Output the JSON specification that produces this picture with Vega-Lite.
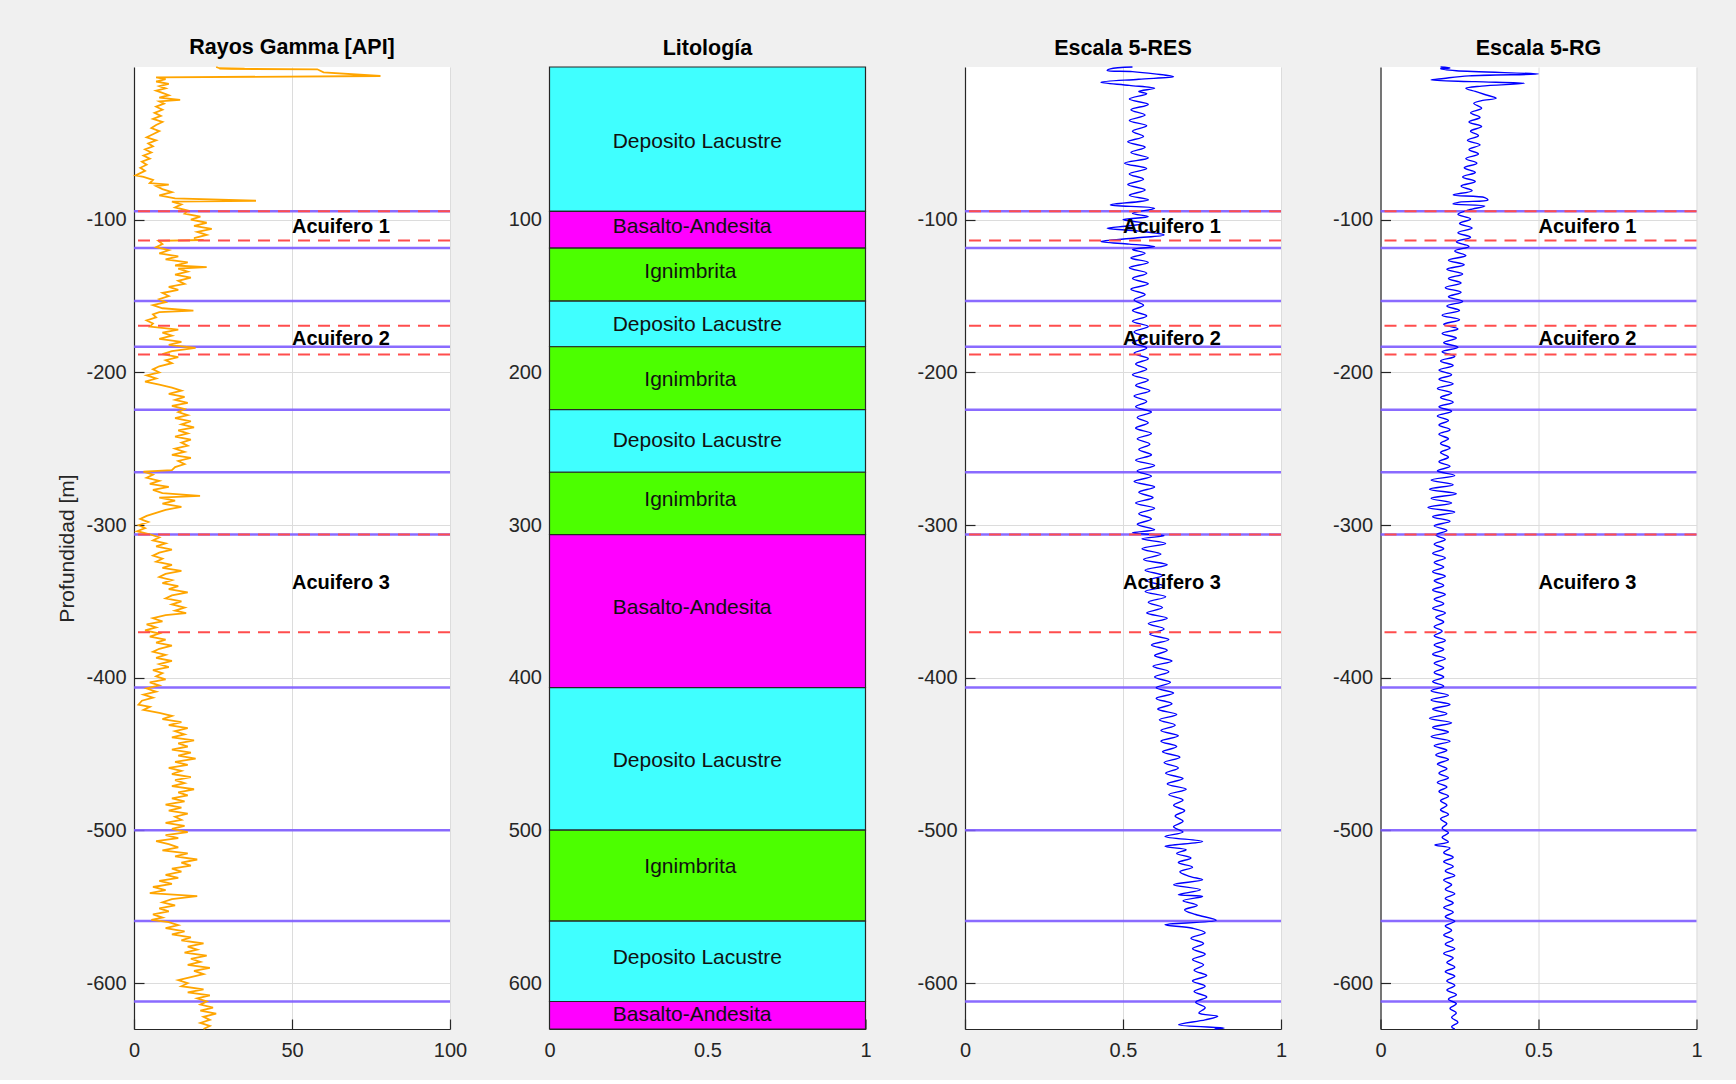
{
"$schema": "https://vega.github.io/schema/vega-lite/v6.json",
"background": "#f0f0f0",
"padding": {"left": 56, "top": 37, "right": 33, "bottom": 20},
"bounds": "flush",
"spacing": 99.5,
"config": {
  "font": "Liberation Sans",
  "view": {"stroke": null, "fill": "white"},
  "axis": {"domainColor": "#262626", "domainWidth": 1.2, "tickColor": "#262626", "tickSize": -10, "tickWidth": 1.2, "labelColor": "#262626", "labelFontSize": 20, "labelFlush": false, "gridColor": "#dcdcdc", "gridWidth": 1, "titleColor": "#262626", "titleFontSize": 21, "titleFontWeight": "normal", "titlePadding": 8},
  "axisLeft": {"labelPadding": 18},
  "axisBottom": {"labelPadding": 21},
  "title": {"fontSize": 21.5, "fontWeight": "bold", "color": "#000000", "offset": 4.5}
},
"datasets": {
  "limites": [{"p": -94.5}, {"p": -118.6}, {"p": -153.3}, {"p": -183.2}, {"p": -224.4}, {"p": -265.4}, {"p": -306.2}, {"p": -406.4}, {"p": -499.8}, {"p": -559.3}, {"p": -612}],
  "acuiferos": [{"p": -94.5}, {"p": -113.6}, {"p": -169.4}, {"p": -188.2}, {"p": -306.2}, {"p": -370.2}],
  "etiquetas": [{"p": -105, "txt": "Acuifero 1"}, {"p": -178.3, "txt": "Acuifero 2"}, {"p": -338, "txt": "Acuifero 3"}],
  "lito": [
    {"lito": "Deposito Lacustre", "p": 0, "p2": 94.5, "pm": 48.9, "xt": 0.2},
    {"lito": "Basalto-Andesita", "p": 94.5, "p2": 118.6, "pm": 104.7, "xt": 0.2},
    {"lito": "Ignimbrita", "p": 118.6, "p2": 153.3, "pm": 134.5, "xt": 0.3},
    {"lito": "Deposito Lacustre", "p": 153.3, "p2": 183.2, "pm": 169.2, "xt": 0.2},
    {"lito": "Ignimbrita", "p": 183.2, "p2": 224.4, "pm": 204.7, "xt": 0.3},
    {"lito": "Deposito Lacustre", "p": 224.4, "p2": 265.4, "pm": 244.6, "xt": 0.2},
    {"lito": "Ignimbrita", "p": 265.4, "p2": 306.2, "pm": 283.7, "xt": 0.3},
    {"lito": "Basalto-Andesita", "p": 306.2, "p2": 406.4, "pm": 354.0, "xt": 0.2},
    {"lito": "Deposito Lacustre", "p": 406.4, "p2": 499.8, "pm": 454.8, "xt": 0.2},
    {"lito": "Ignimbrita", "p": 499.8, "p2": 559.3, "pm": 523.6, "xt": 0.3},
    {"lito": "Deposito Lacustre", "p": 559.3, "p2": 612, "pm": 583.8, "xt": 0.2},
    {"lito": "Basalto-Andesita", "p": 612, "p2": 630, "pm": 620.8, "xt": 0.2}
  ],
  "gr": [
{"p":0,"v":26},{"p":-0.8,"v":27},{"p":-1,"v":35},{"p":-1.2,"v":27},{"p":-1.5,"v":58},{"p":-3.5,"v":60},{"p":-5.9,"v":78},{"p":-6.8,"v":7},{"p":-8,"v":10},{"p":-9.5,"v":7},{"p":-11,"v":11},{"p":-12.5,"v":8},{"p":-14,"v":10},{"p":-15.5,"v":7},{"p":-17,"v":9},{"p":-18.5,"v":11},{"p":-20,"v":8},{"p":-21.5,"v":14.6},{"p":-22.5,"v":8},{"p":-24,"v":9.5},{"p":-26,"v":7},{"p":-28,"v":9},{"p":-30,"v":6.5},{"p":-32,"v":8.5},{"p":-34,"v":6},{"p":-36,"v":9},{"p":-38,"v":7},{"p":-40,"v":5.5},{"p":-42,"v":8},{"p":-44,"v":6},{"p":-46,"v":4},{"p":-48,"v":7},{"p":-50,"v":4.5},{"p":-52,"v":6},{"p":-54,"v":3.5},{"p":-56,"v":5.5},{"p":-58,"v":3},{"p":-60,"v":5},{"p":-62,"v":2.5},{"p":-64,"v":4},{"p":-66,"v":2},{"p":-68,"v":3.5},{"p":-70,"v":1.5},{"p":-71,"v":0.5},{"p":-72,"v":3},{"p":-74,"v":6},{"p":-76,"v":5},{"p":-77,"v":11},{"p":-78,"v":7},{"p":-80,"v":9},{"p":-82,"v":12},{"p":-84,"v":8},{"p":-86,"v":13},{"p":-87.6,"v":38.6},{"p":-88.2,"v":12},{"p":-90,"v":15},{"p":-92,"v":13},{"p":-94,"v":17},{"p":-96,"v":16},{"p":-98,"v":21},{"p":-100,"v":18},{"p":-102,"v":23},{"p":-104,"v":19},{"p":-106,"v":24.6},{"p":-108,"v":20},{"p":-110,"v":23},{"p":-112,"v":19},{"p":-113.3,"v":22},{"p":-113.8,"v":7.7},{"p":-116,"v":9},{"p":-118,"v":7},{"p":-120,"v":11},{"p":-122,"v":8},{"p":-124,"v":14},{"p":-126,"v":10},{"p":-128,"v":17},{"p":-130,"v":13},{"p":-131,"v":23},{"p":-132,"v":14},{"p":-134,"v":17},{"p":-136,"v":13},{"p":-138,"v":18},{"p":-140,"v":14},{"p":-142,"v":16},{"p":-144,"v":11},{"p":-146,"v":14},{"p":-148,"v":9},{"p":-150,"v":11},{"p":-152,"v":8},{"p":-154,"v":10},{"p":-156,"v":6},{"p":-158,"v":9},{"p":-159.5,"v":18.8},{"p":-160.5,"v":8},{"p":-162,"v":6},{"p":-164,"v":7},{"p":-166,"v":4},{"p":-168,"v":6},{"p":-170,"v":5},{"p":-172,"v":14},{"p":-174,"v":9},{"p":-176,"v":12},{"p":-178,"v":8},{"p":-180,"v":15},{"p":-182,"v":11},{"p":-184,"v":19.5},{"p":-186,"v":12},{"p":-188,"v":9},{"p":-190,"v":14},{"p":-192,"v":10},{"p":-194,"v":12},{"p":-196,"v":8},{"p":-198,"v":6},{"p":-200,"v":8},{"p":-202,"v":4},{"p":-204,"v":7},{"p":-206,"v":3.5},{"p":-208,"v":8},{"p":-210,"v":12},{"p":-212,"v":15},{"p":-214,"v":11},{"p":-216,"v":16},{"p":-218,"v":13},{"p":-220,"v":17},{"p":-222,"v":12},{"p":-224,"v":16},{"p":-226,"v":14},{"p":-228,"v":17},{"p":-230,"v":13},{"p":-232,"v":18},{"p":-234,"v":15},{"p":-236,"v":19},{"p":-238,"v":14},{"p":-240,"v":17},{"p":-242,"v":13},{"p":-244,"v":18},{"p":-246,"v":15},{"p":-248,"v":17},{"p":-250,"v":13},{"p":-252,"v":16},{"p":-254,"v":12},{"p":-256,"v":18},{"p":-258,"v":14},{"p":-260,"v":16},{"p":-262,"v":13},{"p":-264,"v":12},{"p":-265,"v":3},{"p":-267,"v":6},{"p":-269,"v":4},{"p":-271,"v":8},{"p":-273,"v":5},{"p":-275,"v":11},{"p":-277,"v":6},{"p":-279,"v":9},{"p":-280.8,"v":20.9},{"p":-282,"v":8},{"p":-284,"v":13},{"p":-286,"v":9},{"p":-288,"v":15},{"p":-290,"v":10},{"p":-292,"v":7},{"p":-294,"v":4},{"p":-296,"v":2},{"p":-298,"v":4.5},{"p":-300,"v":1.5},{"p":-302,"v":3.5},{"p":-304,"v":1},{"p":-306,"v":5},{"p":-308,"v":8},{"p":-310,"v":6},{"p":-312,"v":10},{"p":-314,"v":7},{"p":-316,"v":12},{"p":-318,"v":8},{"p":-320,"v":6},{"p":-322,"v":9},{"p":-324,"v":7},{"p":-326,"v":12},{"p":-328,"v":9},{"p":-330,"v":15},{"p":-332,"v":10},{"p":-334,"v":8},{"p":-336,"v":12},{"p":-338,"v":9},{"p":-340,"v":14},{"p":-342,"v":11},{"p":-344,"v":17},{"p":-346,"v":12},{"p":-348,"v":10},{"p":-350,"v":15},{"p":-352,"v":12},{"p":-354,"v":16},{"p":-356,"v":13},{"p":-357.6,"v":16.5},{"p":-359,"v":10},{"p":-361,"v":6},{"p":-363,"v":9},{"p":-365,"v":4},{"p":-367,"v":7},{"p":-369,"v":3.5},{"p":-371,"v":8},{"p":-373,"v":5},{"p":-375,"v":10},{"p":-377,"v":7},{"p":-379,"v":12},{"p":-381,"v":8},{"p":-383,"v":6},{"p":-385,"v":10},{"p":-387,"v":7},{"p":-389,"v":12},{"p":-391,"v":8},{"p":-393,"v":11},{"p":-395,"v":6},{"p":-397,"v":9},{"p":-399,"v":7},{"p":-401,"v":10},{"p":-403,"v":5},{"p":-405,"v":8},{"p":-407,"v":4},{"p":-409,"v":7},{"p":-411,"v":3},{"p":-413,"v":6},{"p":-415,"v":2.5},{"p":-417.6,"v":1.4},{"p":-419,"v":5},{"p":-421,"v":3},{"p":-423,"v":8},{"p":-425,"v":12},{"p":-427,"v":9},{"p":-429,"v":15},{"p":-431,"v":11},{"p":-433,"v":17},{"p":-435,"v":13},{"p":-437,"v":16},{"p":-439,"v":12},{"p":-441,"v":19},{"p":-443,"v":14},{"p":-445,"v":17},{"p":-447,"v":12},{"p":-449,"v":18},{"p":-451,"v":14},{"p":-453,"v":19.5},{"p":-455,"v":13},{"p":-457,"v":17},{"p":-459,"v":11},{"p":-461,"v":15},{"p":-463,"v":12},{"p":-465,"v":18},{"p":-467,"v":13},{"p":-469,"v":16},{"p":-471,"v":12},{"p":-473,"v":19},{"p":-475,"v":14},{"p":-477,"v":17},{"p":-479,"v":12},{"p":-481,"v":16},{"p":-483,"v":10},{"p":-485,"v":15},{"p":-487,"v":11},{"p":-489,"v":17},{"p":-491,"v":13},{"p":-493,"v":15},{"p":-495,"v":10},{"p":-497,"v":16},{"p":-499,"v":12},{"p":-501,"v":17},{"p":-503,"v":10},{"p":-505,"v":14},{"p":-507,"v":7},{"p":-509,"v":11},{"p":-511,"v":14},{"p":-513,"v":9},{"p":-515,"v":17},{"p":-517,"v":13},{"p":-519,"v":20},{"p":-521,"v":15},{"p":-523,"v":18},{"p":-525,"v":12},{"p":-527,"v":15},{"p":-529,"v":10},{"p":-531,"v":14},{"p":-533,"v":8},{"p":-535,"v":12},{"p":-537,"v":6},{"p":-539,"v":10},{"p":-541,"v":5},{"p":-543,"v":20},{"p":-545,"v":12},{"p":-547,"v":9},{"p":-549,"v":13},{"p":-551,"v":8},{"p":-553,"v":11},{"p":-555,"v":6},{"p":-557,"v":9},{"p":-558.5,"v":5.5},{"p":-560,"v":11},{"p":-562,"v":14},{"p":-564,"v":10},{"p":-566,"v":16},{"p":-568,"v":12},{"p":-570,"v":18},{"p":-572,"v":15},{"p":-574,"v":22},{"p":-576,"v":17},{"p":-578,"v":20},{"p":-580,"v":16},{"p":-582,"v":23},{"p":-584,"v":18},{"p":-586,"v":21},{"p":-588,"v":17},{"p":-590,"v":24},{"p":-592,"v":19},{"p":-594,"v":22},{"p":-596,"v":18},{"p":-598,"v":14},{"p":-600,"v":17},{"p":-602,"v":15},{"p":-604,"v":22},{"p":-606,"v":17},{"p":-608,"v":24},{"p":-610,"v":20},{"p":-612,"v":23},{"p":-614,"v":21},{"p":-616,"v":25},{"p":-618,"v":21},{"p":-620,"v":26},{"p":-622,"v":22},{"p":-624,"v":24},{"p":-626,"v":21},{"p":-628,"v":24},{"p":-630,"v":22}
  ],
  "res": [
{"p":0,"v":0.53},{"p":-1.2,"v":0.46},{"p":-2.3,"v":0.45},{"p":-3,"v":0.53},{"p":-4.5,"v":0.6},{"p":-6.3,"v":0.66},{"p":-8,"v":0.55},{"p":-10,"v":0.43},{"p":-12,"v":0.52},{"p":-14,"v":0.6},{"p":-16,"v":0.55},{"p":-17.5,"v":0.575},{"p":-21,"v":0.52},{"p":-24.5,"v":0.58},{"p":-28,"v":0.525},{"p":-31.5,"v":0.57},{"p":-35,"v":0.52},{"p":-38.5,"v":0.575},{"p":-42,"v":0.53},{"p":-45.5,"v":0.565},{"p":-49,"v":0.515},{"p":-52.5,"v":0.57},{"p":-56,"v":0.525},{"p":-59.5,"v":0.58},{"p":-63,"v":0.505},{"p":-66.5,"v":0.575},{"p":-70,"v":0.52},{"p":-73.5,"v":0.565},{"p":-77,"v":0.515},{"p":-80.5,"v":0.57},{"p":-84,"v":0.52},{"p":-87,"v":0.58},{"p":-90.3,"v":0.46},{"p":-92.5,"v":0.6},{"p":-95.8,"v":0.53},{"p":-98,"v":0.58},{"p":-100,"v":0.5},{"p":-102.3,"v":0.57},{"p":-104,"v":0.52},{"p":-105.6,"v":0.45},{"p":-107.5,"v":0.55},{"p":-110,"v":0.63},{"p":-112,"v":0.54},{"p":-114.3,"v":0.43},{"p":-116,"v":0.52},{"p":-117.6,"v":0.6},{"p":-119.5,"v":0.53},{"p":-122,"v":0.57},{"p":-125,"v":0.525},{"p":-128,"v":0.58},{"p":-131.5,"v":0.52},{"p":-135,"v":0.575},{"p":-138.5,"v":0.53},{"p":-142,"v":0.58},{"p":-145.5,"v":0.525},{"p":-149,"v":0.57},{"p":-152.5,"v":0.535},{"p":-156,"v":0.565},{"p":-159.5,"v":0.53},{"p":-163,"v":0.575},{"p":-166.5,"v":0.53},{"p":-170,"v":0.58},{"p":-173.5,"v":0.535},{"p":-177,"v":0.57},{"p":-180.5,"v":0.53},{"p":-184,"v":0.575},{"p":-187.5,"v":0.535},{"p":-191,"v":0.58},{"p":-194.5,"v":0.54},{"p":-198,"v":0.575},{"p":-201.5,"v":0.53},{"p":-205,"v":0.58},{"p":-208.5,"v":0.54},{"p":-212,"v":0.585},{"p":-215.5,"v":0.535},{"p":-219,"v":0.575},{"p":-222.5,"v":0.54},{"p":-226,"v":0.59},{"p":-229.5,"v":0.545},{"p":-233,"v":0.58},{"p":-236.5,"v":0.54},{"p":-240,"v":0.59},{"p":-243.5,"v":0.545},{"p":-247,"v":0.585},{"p":-250.5,"v":0.55},{"p":-254,"v":0.59},{"p":-257.5,"v":0.54},{"p":-261,"v":0.6},{"p":-264.5,"v":0.545},{"p":-268,"v":0.59},{"p":-271.5,"v":0.535},{"p":-275,"v":0.6},{"p":-278.5,"v":0.55},{"p":-282,"v":0.595},{"p":-285.5,"v":0.54},{"p":-289,"v":0.6},{"p":-292.5,"v":0.55},{"p":-296,"v":0.59},{"p":-299.5,"v":0.545},{"p":-303,"v":0.6},{"p":-305,"v":0.53},{"p":-307,"v":0.63},{"p":-309,"v":0.56},{"p":-312,"v":0.635},{"p":-315.5,"v":0.56},{"p":-319,"v":0.62},{"p":-322.5,"v":0.565},{"p":-326,"v":0.64},{"p":-329.5,"v":0.57},{"p":-333,"v":0.625},{"p":-336.5,"v":0.575},{"p":-340,"v":0.63},{"p":-343.5,"v":0.57},{"p":-347,"v":0.635},{"p":-350.5,"v":0.58},{"p":-354,"v":0.625},{"p":-357.5,"v":0.575},{"p":-361,"v":0.64},{"p":-364.5,"v":0.58},{"p":-368,"v":0.63},{"p":-371.5,"v":0.585},{"p":-375,"v":0.645},{"p":-378.5,"v":0.59},{"p":-382,"v":0.64},{"p":-385.5,"v":0.6},{"p":-389,"v":0.655},{"p":-392.5,"v":0.595},{"p":-396,"v":0.645},{"p":-399.5,"v":0.6},{"p":-403,"v":0.65},{"p":-406.5,"v":0.605},{"p":-410,"v":0.66},{"p":-413.5,"v":0.605},{"p":-417,"v":0.655},{"p":-420.5,"v":0.61},{"p":-424,"v":0.67},{"p":-427.5,"v":0.615},{"p":-431,"v":0.665},{"p":-434.5,"v":0.62},{"p":-438,"v":0.675},{"p":-441.5,"v":0.62},{"p":-445,"v":0.67},{"p":-448.5,"v":0.625},{"p":-452,"v":0.68},{"p":-455.5,"v":0.63},{"p":-459,"v":0.675},{"p":-462.5,"v":0.635},{"p":-466,"v":0.69},{"p":-469.5,"v":0.64},{"p":-473,"v":0.7},{"p":-476.5,"v":0.645},{"p":-480,"v":0.69},{"p":-483.5,"v":0.66},{"p":-487,"v":0.695},{"p":-490.5,"v":0.665},{"p":-494,"v":0.69},{"p":-497.5,"v":0.66},{"p":-501,"v":0.69},{"p":-503.9,"v":0.633},{"p":-507.2,"v":0.752},{"p":-510.4,"v":0.633},{"p":-512.6,"v":0.7},{"p":-515,"v":0.67},{"p":-518,"v":0.715},{"p":-521,"v":0.675},{"p":-524,"v":0.72},{"p":-527,"v":0.68},{"p":-530,"v":0.71},{"p":-532.3,"v":0.752},{"p":-535.5,"v":0.66},{"p":-538.8,"v":0.745},{"p":-542,"v":0.675},{"p":-543.2,"v":0.752},{"p":-546,"v":0.69},{"p":-549,"v":0.735},{"p":-552,"v":0.695},{"p":-555,"v":0.73},{"p":-558.8,"v":0.795},{"p":-561.7,"v":0.633},{"p":-564,"v":0.72},{"p":-567,"v":0.76},{"p":-570.5,"v":0.715},{"p":-574,"v":0.755},{"p":-577.5,"v":0.72},{"p":-581,"v":0.76},{"p":-584.5,"v":0.72},{"p":-588,"v":0.755},{"p":-591.5,"v":0.725},{"p":-595,"v":0.765},{"p":-598.5,"v":0.72},{"p":-602,"v":0.76},{"p":-605.5,"v":0.725},{"p":-609,"v":0.765},{"p":-612.5,"v":0.73},{"p":-616,"v":0.76},{"p":-619.5,"v":0.74},{"p":-621.7,"v":0.8},{"p":-624,"v":0.76},{"p":-627.2,"v":0.676},{"p":-629.4,"v":0.82},{"p":-630,"v":0.79}
  ],
  "rg": [
{"p":0,"v":0.19},{"p":-0.6,"v":0.22},{"p":-1.2,"v":0.19},{"p":-2.5,"v":0.24},{"p":-4.6,"v":0.5},{"p":-5.8,"v":0.28},{"p":-7.5,"v":0.2},{"p":-8.5,"v":0.16},{"p":-9.6,"v":0.3},{"p":-10.7,"v":0.455},{"p":-12.5,"v":0.32},{"p":-14,"v":0.27},{"p":-16,"v":0.3},{"p":-18,"v":0.33},{"p":-20.5,"v":0.366},{"p":-22,"v":0.32},{"p":-23.8,"v":0.295},{"p":-27,"v":0.32},{"p":-30,"v":0.285},{"p":-33,"v":0.315},{"p":-36,"v":0.28},{"p":-39,"v":0.32},{"p":-42,"v":0.285},{"p":-45,"v":0.31},{"p":-48,"v":0.275},{"p":-51,"v":0.315},{"p":-54,"v":0.28},{"p":-57,"v":0.31},{"p":-60,"v":0.27},{"p":-63,"v":0.305},{"p":-66,"v":0.265},{"p":-69,"v":0.3},{"p":-72,"v":0.26},{"p":-75,"v":0.3},{"p":-78,"v":0.255},{"p":-81,"v":0.29},{"p":-83.8,"v":0.23},{"p":-85.5,"v":0.33},{"p":-87.1,"v":0.34},{"p":-88.5,"v":0.25},{"p":-89.7,"v":0.229},{"p":-91,"v":0.33},{"p":-93.6,"v":0.28},{"p":-96.5,"v":0.245},{"p":-99.5,"v":0.285},{"p":-102.5,"v":0.25},{"p":-105.5,"v":0.29},{"p":-108.5,"v":0.245},{"p":-111.5,"v":0.285},{"p":-114.5,"v":0.24},{"p":-117.5,"v":0.28},{"p":-120.5,"v":0.235},{"p":-123.5,"v":0.27},{"p":-126.5,"v":0.215},{"p":-129.5,"v":0.265},{"p":-132.5,"v":0.21},{"p":-135.5,"v":0.26},{"p":-138.5,"v":0.215},{"p":-141.5,"v":0.255},{"p":-144.5,"v":0.205},{"p":-147.5,"v":0.255},{"p":-150.5,"v":0.215},{"p":-153.5,"v":0.26},{"p":-156.5,"v":0.21},{"p":-159.5,"v":0.25},{"p":-162.5,"v":0.195},{"p":-165.5,"v":0.25},{"p":-168.5,"v":0.2},{"p":-171.5,"v":0.245},{"p":-174.5,"v":0.195},{"p":-177.5,"v":0.24},{"p":-180.5,"v":0.2},{"p":-183.5,"v":0.245},{"p":-186.5,"v":0.195},{"p":-189.5,"v":0.235},{"p":-192.5,"v":0.19},{"p":-195.5,"v":0.23},{"p":-198.5,"v":0.185},{"p":-201.5,"v":0.225},{"p":-204.5,"v":0.185},{"p":-207.5,"v":0.23},{"p":-210.5,"v":0.18},{"p":-213.5,"v":0.225},{"p":-216.5,"v":0.19},{"p":-219.5,"v":0.23},{"p":-222.5,"v":0.185},{"p":-225.5,"v":0.225},{"p":-228.5,"v":0.18},{"p":-231.5,"v":0.215},{"p":-234.5,"v":0.185},{"p":-237.5,"v":0.22},{"p":-240.5,"v":0.185},{"p":-243.5,"v":0.215},{"p":-246.5,"v":0.19},{"p":-249.5,"v":0.22},{"p":-252.5,"v":0.19},{"p":-255.5,"v":0.215},{"p":-258.5,"v":0.185},{"p":-261.5,"v":0.22},{"p":-264.5,"v":0.18},{"p":-267.5,"v":0.235},{"p":-270.5,"v":0.16},{"p":-273.5,"v":0.23},{"p":-276.5,"v":0.155},{"p":-279.5,"v":0.24},{"p":-282.5,"v":0.16},{"p":-285.5,"v":0.225},{"p":-288.5,"v":0.15},{"p":-291.5,"v":0.235},{"p":-294.5,"v":0.165},{"p":-297.5,"v":0.22},{"p":-300.5,"v":0.17},{"p":-303.5,"v":0.21},{"p":-306.5,"v":0.175},{"p":-309.5,"v":0.205},{"p":-312.5,"v":0.17},{"p":-315.5,"v":0.2},{"p":-318.5,"v":0.165},{"p":-321.5,"v":0.205},{"p":-324.5,"v":0.17},{"p":-327.5,"v":0.2},{"p":-330.5,"v":0.165},{"p":-333.5,"v":0.205},{"p":-336.5,"v":0.17},{"p":-339.5,"v":0.2},{"p":-342.5,"v":0.165},{"p":-345.5,"v":0.205},{"p":-348.5,"v":0.17},{"p":-351.5,"v":0.2},{"p":-354.5,"v":0.165},{"p":-357.5,"v":0.205},{"p":-360.5,"v":0.175},{"p":-363.5,"v":0.2},{"p":-366.5,"v":0.17},{"p":-369.5,"v":0.195},{"p":-372.5,"v":0.17},{"p":-375.5,"v":0.205},{"p":-378.5,"v":0.17},{"p":-381.5,"v":0.2},{"p":-384.5,"v":0.165},{"p":-387.5,"v":0.205},{"p":-390.5,"v":0.17},{"p":-393.5,"v":0.2},{"p":-396.5,"v":0.17},{"p":-399.5,"v":0.2},{"p":-402.5,"v":0.165},{"p":-405.5,"v":0.2},{"p":-408.5,"v":0.16},{"p":-411.5,"v":0.215},{"p":-414.5,"v":0.16},{"p":-417.5,"v":0.22},{"p":-420.5,"v":0.165},{"p":-423.5,"v":0.21},{"p":-426.5,"v":0.155},{"p":-429.5,"v":0.225},{"p":-432.5,"v":0.165},{"p":-435.5,"v":0.215},{"p":-438.5,"v":0.16},{"p":-441.5,"v":0.22},{"p":-444.5,"v":0.17},{"p":-447.5,"v":0.21},{"p":-450.5,"v":0.175},{"p":-453.5,"v":0.215},{"p":-456.5,"v":0.18},{"p":-459.5,"v":0.21},{"p":-462.5,"v":0.185},{"p":-465.5,"v":0.215},{"p":-468.5,"v":0.18},{"p":-471.5,"v":0.21},{"p":-474.5,"v":0.185},{"p":-477.5,"v":0.215},{"p":-480.5,"v":0.19},{"p":-483.5,"v":0.21},{"p":-486.5,"v":0.19},{"p":-489.5,"v":0.215},{"p":-492.5,"v":0.19},{"p":-495.5,"v":0.21},{"p":-498.5,"v":0.195},{"p":-501.5,"v":0.215},{"p":-504.5,"v":0.195},{"p":-507.5,"v":0.215},{"p":-509.5,"v":0.172},{"p":-511.5,"v":0.22},{"p":-514.5,"v":0.2},{"p":-517.5,"v":0.23},{"p":-520.5,"v":0.2},{"p":-523.5,"v":0.23},{"p":-526.5,"v":0.205},{"p":-529.5,"v":0.235},{"p":-532.5,"v":0.2},{"p":-535.5,"v":0.225},{"p":-538.5,"v":0.205},{"p":-541.5,"v":0.235},{"p":-544.5,"v":0.205},{"p":-547.5,"v":0.23},{"p":-550.5,"v":0.2},{"p":-553.5,"v":0.23},{"p":-556.5,"v":0.205},{"p":-559.5,"v":0.235},{"p":-562.5,"v":0.205},{"p":-565.5,"v":0.225},{"p":-568.5,"v":0.2},{"p":-571.5,"v":0.23},{"p":-574.5,"v":0.205},{"p":-577.5,"v":0.235},{"p":-580.5,"v":0.2},{"p":-583.5,"v":0.23},{"p":-586.5,"v":0.21},{"p":-589.5,"v":0.235},{"p":-592.5,"v":0.205},{"p":-595.5,"v":0.235},{"p":-598.5,"v":0.21},{"p":-601.5,"v":0.235},{"p":-604.5,"v":0.21},{"p":-607.5,"v":0.24},{"p":-610.5,"v":0.215},{"p":-613.5,"v":0.24},{"p":-616.5,"v":0.22},{"p":-619.5,"v":0.24},{"p":-622.5,"v":0.225},{"p":-625.5,"v":0.245},{"p":-628.5,"v":0.225},{"p":-630,"v":0.235}
  ]
},
"hconcat": [
  {
    "width": 316, "height": 962,
    "title": {"text": "Rayos Gamma [API]"},
    "encoding": {"y": {"field": "p", "type": "quantitative", "title": "Profundidad [m]", "scale": {"domain": [-630, 0], "nice": false, "zero": false}, "axis": {"values": [-600, -500, -400, -300, -200, -100], "labelExpr": "'' + datum.value", "grid": true}}},
    "layer": [
      {"data": {"name": "limites"}, "mark": {"type": "rule", "color": "#7d5bff", "strokeWidth": 2.5, "opacity": 0.9}, "encoding": {}},
      {"data": {"name": "gr"}, "mark": {"type": "line", "color": "#ffa500", "strokeWidth": 1.8}, "encoding": {"x": {"field": "v", "type": "quantitative", "title": null, "scale": {"domain": [0, 100], "nice": false}, "axis": {"values": [0, 50, 100], "labelExpr": "'' + datum.value", "grid": true}}, "order": {"field": "p", "type": "quantitative"}}},
      {"data": {"name": "acuiferos"}, "mark": {"type": "rule", "color": "#ff4d4d", "strokeWidth": 2, "strokeDash": [12, 8]}, "encoding": {}},
      {"data": {"name": "etiquetas"}, "mark": {"type": "text", "align": "left", "baseline": "middle", "fontSize": 20, "fontWeight": "bold", "color": "#000000"}, "encoding": {"x": {"datum": 50}, "text": {"field": "txt"}}}
    ]
  },
  {
    "width": 316, "height": 962,
    "title": {"text": "Litología", "offset": 7}, 
    "data": {"name": "lito"},
    "layer": [
      {"mark": {"type": "rect", "stroke": "#262626", "strokeWidth": 1.2},
       "encoding": {
         "y": {"field": "p", "type": "quantitative", "title": null, "scale": {"domain": [0, 630], "reverse": true, "nice": false, "zero": false}, "axis": {"values": [100, 200, 300, 400, 500, 600], "labelExpr": "'' + datum.value", "grid": false}},
         "y2": {"field": "p2"},
         "x": {"datum": 0, "type": "quantitative", "title": null, "scale": {"domain": [0, 1], "nice": false}, "axis": {"values": [0, 0.5, 1], "labelExpr": "'' + datum.value", "grid": false}},
         "x2": {"datum": 1},
         "color": {"field": "lito", "type": "nominal", "scale": {"domain": ["Deposito Lacustre", "Basalto-Andesita", "Ignimbrita"], "range": ["#40ffff", "#ff00ff", "#4cff00"]}, "legend": null}
       }},
      {"mark": {"type": "text", "align": "left", "baseline": "middle", "fontSize": 21, "color": "#111111"},
       "encoding": {
         "y": {"field": "pm", "type": "quantitative", "title": null},
         "x": {"field": "xt", "type": "quantitative", "title": null},
         "text": {"field": "lito"}
       }}
    ]
  },
  {
    "width": 316, "height": 962,
    "title": {"text": "Escala 5-RES"},
    "encoding": {"y": {"field": "p", "type": "quantitative", "title": null, "scale": {"domain": [-630, 0], "nice": false, "zero": false}, "axis": {"values": [-600, -500, -400, -300, -200, -100], "labelExpr": "'' + datum.value", "grid": true}}},
    "layer": [
      {"data": {"name": "limites"}, "mark": {"type": "rule", "color": "#7d5bff", "strokeWidth": 2.5, "opacity": 0.9}, "encoding": {}},
      {"data": {"name": "res"}, "mark": {"type": "line", "color": "#0000ff", "strokeWidth": 1.4, "interpolate": "catmull-rom"}, "encoding": {"x": {"field": "v", "type": "quantitative", "title": null, "scale": {"domain": [0, 1], "nice": false}, "axis": {"values": [0, 0.5, 1], "labelExpr": "'' + datum.value", "grid": true}}, "order": {"field": "p", "type": "quantitative"}}},
      {"data": {"name": "acuiferos"}, "mark": {"type": "rule", "color": "#ff4d4d", "strokeWidth": 2, "strokeDash": [12, 8]}, "encoding": {}},
      {"data": {"name": "etiquetas"}, "mark": {"type": "text", "align": "left", "baseline": "middle", "fontSize": 20, "fontWeight": "bold", "color": "#000000"}, "encoding": {"x": {"datum": 0.5}, "text": {"field": "txt"}}}
    ]
  },
  {
    "width": 316, "height": 962,
    "title": {"text": "Escala 5-RG"},
    "encoding": {"y": {"field": "p", "type": "quantitative", "title": null, "scale": {"domain": [-630, 0], "nice": false, "zero": false}, "axis": {"values": [-600, -500, -400, -300, -200, -100], "labelExpr": "'' + datum.value", "grid": true}}},
    "layer": [
      {"data": {"name": "limites"}, "mark": {"type": "rule", "color": "#7d5bff", "strokeWidth": 2.5, "opacity": 0.9}, "encoding": {}},
      {"data": {"name": "rg"}, "mark": {"type": "line", "color": "#0000ff", "strokeWidth": 1.4, "interpolate": "catmull-rom"}, "encoding": {"x": {"field": "v", "type": "quantitative", "title": null, "scale": {"domain": [0, 1], "nice": false}, "axis": {"values": [0, 0.5, 1], "labelExpr": "'' + datum.value", "grid": true}}, "order": {"field": "p", "type": "quantitative"}}},
      {"data": {"name": "acuiferos"}, "mark": {"type": "rule", "color": "#ff4d4d", "strokeWidth": 2, "strokeDash": [12, 8]}, "encoding": {}},
      {"data": {"name": "etiquetas"}, "mark": {"type": "text", "align": "left", "baseline": "middle", "fontSize": 20, "fontWeight": "bold", "color": "#000000"}, "encoding": {"x": {"datum": 0.5}, "text": {"field": "txt"}}}
    ]
  }
]
}
